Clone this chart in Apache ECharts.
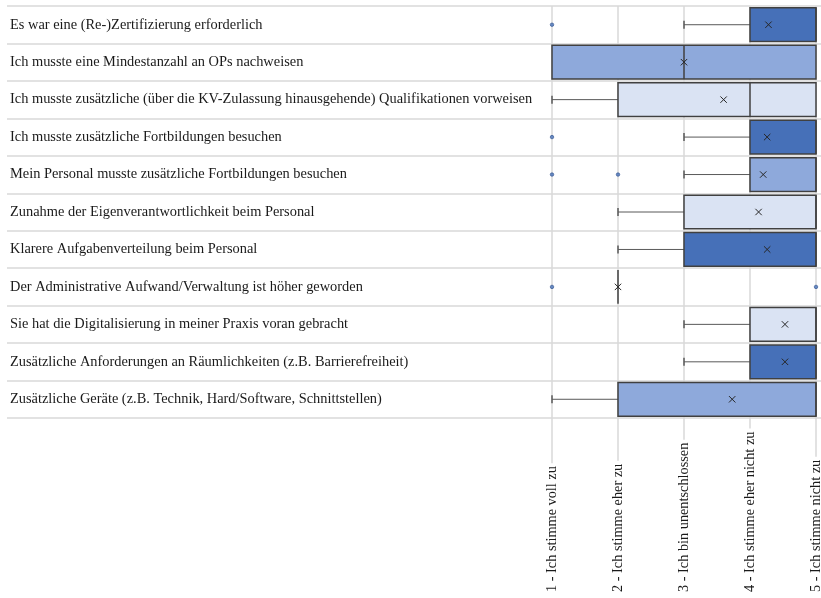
<!DOCTYPE html>
<html>
<head>
<meta charset="utf-8">
<script src="https://cdn.jsdelivr.net/npm/echarts@6/dist/echarts.min.js"></script>
<style>
  html, body { margin: 0; padding: 0; background: #ffffff; }
  #chart { width: 821px; height: 598px; }
</style>
</head>
<body>
<div id="chart"></div>
<script>
// Survey statements, top to bottom
const categories = [
  'Es war eine (Re-)Zertifizierung erforderlich',
  'Ich musste eine Mindestanzahl an OPs nachweisen',
  'Ich musste zusätzliche (über die KV-Zulassung hinausgehende) Qualifikationen vorweisen',
  'Ich musste zusätzliche Fortbildungen besuchen',
  'Mein Personal musste zusätzliche Fortbildungen besuchen',
  'Zunahme der Eigenverantwortlichkeit beim Personal',
  'Klarere Aufgabenverteilung beim Personal',
  'Der Administrative Aufwand/Verwaltung ist höher geworden',
  'Sie hat die Digitalisierung in meiner Praxis voran gebracht',
  'Zusätzliche Anforderungen an Räumlichkeiten (z.B. Barrierefreiheit)',
  'Zusätzliche Geräte (z.B. Technik, Hard/Software, Schnittstellen)'
];

// Five-number summaries per statement (1 = voll zu ... 5 = nicht zu)
const mins    = [3, 1, 1, 3, 3, 2, 2, 2, 3, 3, 1];
const q1s     = [4, 1, 2, 4, 4, 3, 3, 2, 4, 4, 2];
const medians = [5, 3, 4, 5, 5, 5, 5, 2, 5, 5, 5];
const q3s     = [5, 5, 5, 5, 5, 5, 5, 2, 5, 5, 5];
const maxs    = [5, 5, 5, 5, 5, 5, 5, 2, 5, 5, 5];
const means   = [4.28, 3.0, 3.6, 4.26, 4.2, 4.13, 4.26, 2.0, 4.53, 4.53, 3.73];

// Outliers: row index and answer value
const outlierRows   = [0, 3, 4, 4, 7, 7];
const outlierValues = [1, 1, 1, 2, 1, 5];

// Answer scale labels
const tickLabels = [
  '1 - Ich stimme voll zu',
  '2 - Ich stimme eher zu',
  '3 - Ich bin unentschlossen',
  '4 - Ich stimme eher nicht zu',
  '5 - Ich stimme nicht zu'
];

const boxColors = ['#4670B8', '#8EA9DB', '#DAE3F3'];
const gridColor = '#D9D9D9';
const font = 'Liberation Serif, Times New Roman, serif';

const boxData = categories.map((c, i) => [i, mins[i], q1s[i], medians[i], q3s[i], maxs[i]]);
const meanData = categories.map((c, i) => [i, means[i]]);
const outlierData = outlierRows.map((r, i) => [outlierValues[i], r]);

function renderBox(params, api) {
  const row = api.value(0);
  const lo = api.value(1), q1 = api.value(2), md = api.value(3), q3 = api.value(4), hi = api.value(5);
  const x = v => api.coord([v, row])[0];
  const cy = api.coord([q1, row])[1];
  const h = api.size([0, 1])[1] * 0.9;
  const capH = 8;
  const whisker = { stroke: '#595959', lineWidth: 1 };
  const cap = { stroke: '#595959', lineWidth: 1.5 };
  const children = [];
  if (lo < q1) {
    children.push({ type: 'line', shape: { x1: x(lo), y1: cy, x2: x(q1), y2: cy }, style: whisker });
    children.push({ type: 'line', shape: { x1: x(lo), y1: cy - capH / 2, x2: x(lo), y2: cy + capH / 2 }, style: cap });
  }
  if (hi > q3) {
    children.push({ type: 'line', shape: { x1: x(q3), y1: cy, x2: x(hi), y2: cy }, style: whisker });
    children.push({ type: 'line', shape: { x1: x(hi), y1: cy - capH / 2, x2: x(hi), y2: cy + capH / 2 }, style: cap });
  }
  if (q3 > q1) {
    children.push({
      type: 'rect',
      shape: { x: x(q1), y: cy - h / 2, width: x(q3) - x(q1), height: h },
      style: { fill: boxColors[row % 3], stroke: '#404040', lineWidth: 1.5 }
    });
  }
  children.push({
    type: 'line',
    shape: { x1: x(md), y1: cy - h / 2, x2: x(md), y2: cy + h / 2 },
    style: { stroke: '#404040', lineWidth: 1.5 }
  });
  return { type: 'group', children };
}

function renderMean(params, api) {
  const p = api.coord([api.value(1), api.value(0)]);
  const s = 3.2;
  const st = { stroke: '#262626', lineWidth: 1 };
  return {
    type: 'group',
    children: [
      { type: 'line', shape: { x1: p[0] - s, y1: p[1] - s, x2: p[0] + s, y2: p[1] + s }, style: st },
      { type: 'line', shape: { x1: p[0] - s, y1: p[1] + s, x2: p[0] + s, y2: p[1] - s }, style: st }
    ]
  };
}

const chart = echarts.init(document.getElementById('chart'), null, { renderer: 'canvas' });

chart.setOption({
  animation: false,
  backgroundColor: '#ffffff',
  grid: [
    // plot area for the boxes
    { left: 552, right: 5, top: 6, bottom: 180, outerBoundsMode: 'none' },
    // area under the plot holding the scale labels
    { left: 552, right: 5, top: 418, bottom: 3, outerBoundsMode: 'none' },
    // full-width rows with the statements
    { left: 7, right: 0, top: 6, bottom: 180, outerBoundsMode: 'none' }
  ],
  xAxis: [
    {
      gridIndex: 0, type: 'value', min: 1, max: 5, interval: 1,
      axisLine: { show: false }, axisTick: { show: false }, axisLabel: { show: false },
      splitLine: { show: true, lineStyle: { color: gridColor, width: 1.5 } }
    },
    {
      gridIndex: 1, type: 'value', min: 1, max: 5, interval: 1, position: 'bottom',
      axisLine: { show: false }, axisTick: { show: false },
      splitLine: { show: true, lineStyle: { color: gridColor, width: 1.5 } },
      axisLabel: {
        inside: true, rotate: 90, margin: 0,
        showMinLabel: true, showMaxLabel: true,
        fontFamily: font, fontSize: 14.3, color: '#1a1a1a',
        backgroundColor: '#ffffff', padding: [0, 3],
        formatter: v => tickLabels[Math.round(v) - 1] || ''
      }
    },
    { gridIndex: 2, type: 'value', min: 0, max: 1, show: false }
  ],
  yAxis: [
    { gridIndex: 0, type: 'category', data: categories, inverse: true, show: false },
    { gridIndex: 1, type: 'value', min: 0, max: 1, show: false },
    {
      gridIndex: 2, type: 'category', data: categories, inverse: true,
      axisLine: { show: false }, axisTick: { show: false },
      splitLine: { show: true, lineStyle: { color: gridColor, width: 1.5 } },
      axisLabel: {
        inside: true, margin: 3, interval: 0,
        fontFamily: font, fontSize: 14.4, color: '#1a1a1a'
      }
    }
  ],
  series: [
    {
      type: 'custom', name: 'box', xAxisIndex: 0, yAxisIndex: 0,
      data: boxData, encode: { x: [1, 2, 3, 4, 5], y: 0 },
      renderItem: renderBox, z: 2
    },
    {
      type: 'scatter', name: 'outliers', xAxisIndex: 0, yAxisIndex: 0,
      data: outlierData, symbol: 'circle', symbolSize: 3.5,
      itemStyle: { color: '#4670B8', borderColor: '#2F528F', borderWidth: 0.8 }, z: 3
    },
    {
      type: 'custom', name: 'mean', xAxisIndex: 0, yAxisIndex: 0,
      data: meanData, encode: { x: 1, y: 0 },
      renderItem: renderMean, z: 4
    }
  ]
});
</script>
</body>
</html>
